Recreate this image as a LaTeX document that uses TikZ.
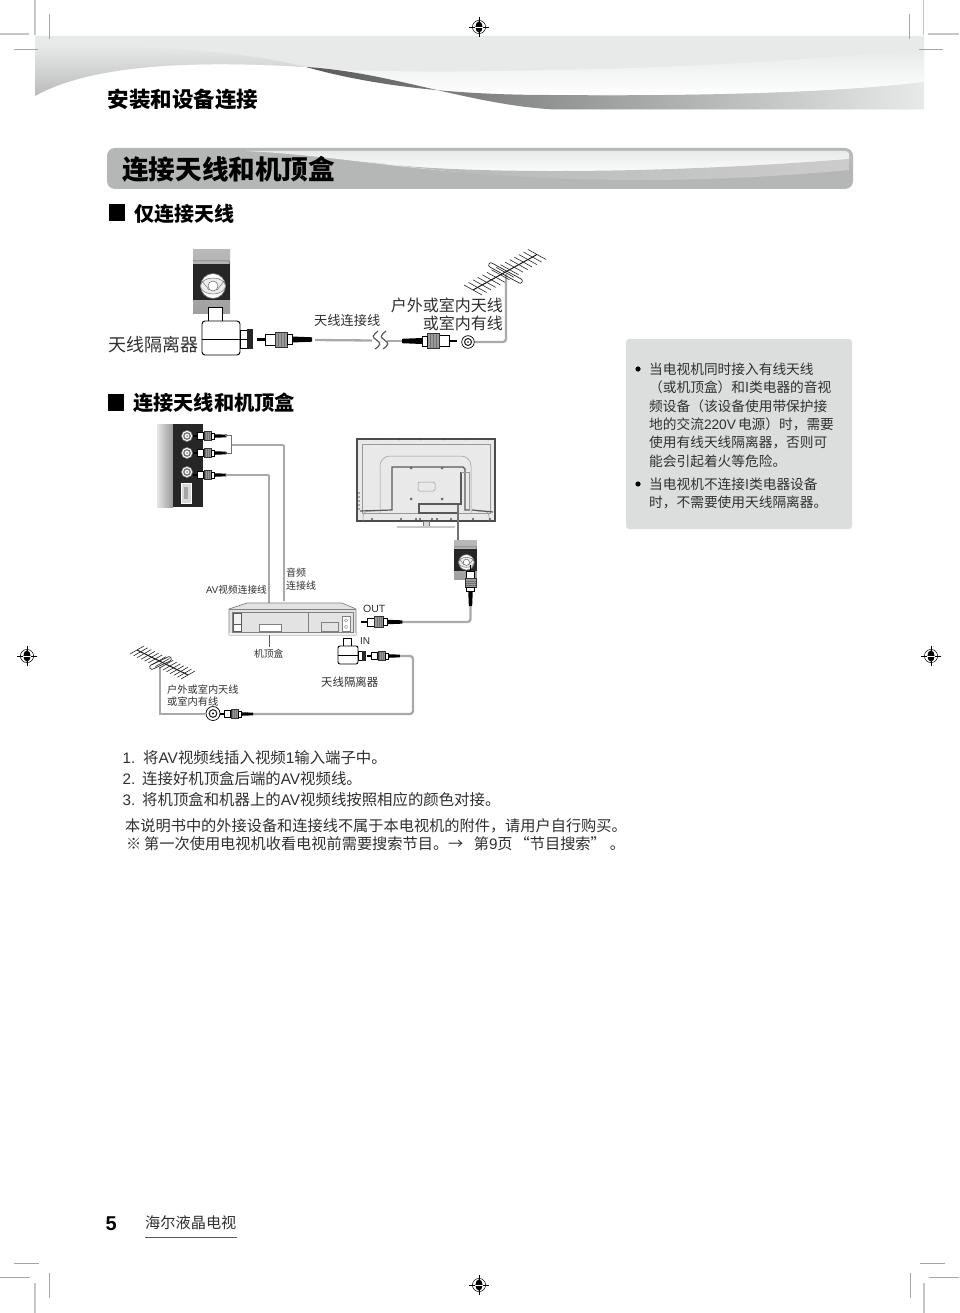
\documentclass[tikz,border=0pt]{standalone}
\usepackage{fontspec}
\setmainfont{Noto Sans CJK SC}
\newfontfamily\lat{Liberation Sans}
\usetikzlibrary{calc}
\definecolor{bandbase}{HTML}{E8EAEA}
\definecolor{barbase}{HTML}{B5B6B6}
\definecolor{notebg}{HTML}{DCDDDD}
\definecolor{txt}{HTML}{303030}
\definecolor{cablegray}{HTML}{A8A9A9}
\definecolor{tvgray}{HTML}{E9E9E9}
\newcommand{\fz}[1]{\fontsize{#1}{#1}\selectfont}
\newcommand{\la}[1]{{\lat #1}}
\tikzset{
  lab/.style={inner sep=0pt,anchor=west,text=txt},
  head/.style={inner sep=0pt,anchor=west,text=black,font=\bfseries},
  cable/.style={draw=cablegray,line width=2.3pt,rounded corners=3pt},
  trim/.style={draw=gray!70,line width=.5pt},
  trimb/.style={draw=gray!45,line width=1.3pt},
  outl/.style={draw=black,line width=.9pt},
}
% coax plug: tip at origin, cable side at +x
\newcommand{\plugshape}{%
  \fill[black] (0,-1.3) rectangle (8,1.3);
  \draw[black,line width=.7pt,fill=white] (8,-5.5) rectangle (18,5.5);
  \fill[gray!80] (18,-7.5) rectangle (30,7.5);
  \foreach \r in {21,24,27}{\draw[black!55,line width=.35pt] (\r,-7.5)--(\r,7.5);}
  \draw[black!80,line width=.5pt] (18,-7.5) rectangle (30,7.5);
  \draw[black,line width=.7pt,fill=white] (30,-5) rectangle (35,5);
  \fill[black] (35,-3) -- (55,-2.2) -- (55,2.2) -- (35,3) -- cycle;
}
\newcommand{\plugat}[5]{\begin{scope}[shift={(#1,#2)},rotate=#3,xscale=#4*#5,yscale=#5]\plugshape\end{scope}}
\newcommand{\coaxring}[3]{%
  \draw[black,line width=.7pt,fill=white] (#1,#2) circle (#3);
  \draw[black!85,line width=1.1pt] (#1,#2) circle (#3*.55);
  \fill[black] (#1,#2) circle (#3*.15);
}
\newcommand{\regmark}[2]{%
  \draw[black,line width=.4pt] (#1-10,#2)--(#1+10,#2) (#1,#2-10)--(#1,#2+10);
  \draw[black,line width=.5pt] (#1,#2) circle (6.6);
  \fill[black] (#1,#2) ellipse (3.6 and 5.6);
  \draw[white,line width=.4pt] (#1-4,#2)--(#1+4,#2);
}
% antenna: boom A-B, element half vector h
\newcommand{\antenna}[6]{%
  \draw[black!90,line width=1pt] (#1,#2)--(#3,#4);
  \foreach \t in {0,...,14}{
    \pgfmathsetmacro\px{#1+(#3-#1)*\t/14}
    \pgfmathsetmacro\py{#2+(#4-#2)*\t/14}
    \draw[black!85,line width=.6pt] (\px-#5,\py-#6)--(\px+#5,\py+#6);
  }
}
\newcommand{\socket}[3]{%
  \begin{scope}[shift={(#1,#2)},scale=#3]
    \shade[top color=gray!55,bottom color=gray!75] (0,0) rectangle (37,63);
    \fill[black!85] (0,14) rectangle (37,50);
    \draw[black!60,line width=.5pt] (0,11)--(36,11)--(37,14);
    \draw[black!60,line width=.6pt,fill=white] (20,36) circle (12.5);
    \draw[gray,line width=.6pt,fill=gray!15] (20,36) ellipse (12.5 and 8);
    \draw[gray!80!black,line width=.5pt,fill=white] (20,36) circle (5);
    \draw[gray!80!black,line width=.4pt] (9,31)--(16,40) (31,31)--(24,40);
  \end{scope}
}
\begin{document}
\begin{tikzpicture}[x=1pt,y=-1pt]
\useasboundingbox (0,0) rectangle (959,1313);
\fill[white] (0,0) rectangle (959,1313);

%===== top band
\fill[bandbase] (35,36) -- (924,36) -- (924,109.5) -- (555,109.5) .. controls (470,105) and (390,72) .. (306,67) .. controls (190,60) and (90,65) .. (35,96) -- cycle;
\shade[top color=bandbase,bottom color=black!27] (35,46) .. controls (130,45) and (230,48) .. (306,67) .. controls (190,60) and (90,65) .. (35,96) -- cycle;
\shade[top color=bandbase,bottom color=white] (306,67) .. controls (367,73) and (470,72) .. (550,70) .. controls (700,68) and (820,58) .. (924,50) -- (924,82) .. controls (820,95) and (650,96) .. (550,95) .. controls (450,95) and (370,85) .. (306,67) -- cycle;
\shade[left color=black!65,right color=bandbase] (306,67) .. controls (370,85) and (450,95) .. (550,95) .. controls (650,96) and (820,95) .. (924,82) -- (924,109.5) -- (555,109.5) .. controls (470,105) and (390,72) .. (306,67) -- cycle;

%===== title bar
\fill[barbase] (107,148) [rounded corners=8pt] -- (853,148) -- (853,189) -- (107,189) -- cycle;
\shade[top color=bandbase,bottom color=white] (245,151) .. controls (330,155) and (420,172) .. (490,173) .. controls (620,177) and (760,172) .. (849,159) -- (849,154) [rounded corners=3pt] -- (849,151) -- cycle;
\shade[left color=barbase,right color=black!20] (370,162) .. controls (430,172) and (620,177) .. (849,159) -- (849,170) .. controls (700,184) and (540,185) .. (370,162) -- cycle;
\draw[black!25,line width=1pt,rounded corners=6pt] (246,150.5) -- (851,150.5) -- (851,165);

\node[head,font=\bfseries\fz{21.5}] (chapter) at (107.5,99) {安装和设备连接};
\node[head,font=\bfseries\fz{26.6}] (title) at (122,169) {连接天线和机顶盒};
\fill[black] (109,204.5) rectangle (125,221);
\node[head,font=\bfseries\fz{20}] (sec1) at (134,213.5) {仅连接天线};
\fill[black] (108,394) rectangle (124,411);
\node[head,font=\bfseries\fz{20.2}] (sec2) at (133,402.5) {连接天线和机顶盒};

%===== diagram 1
\socket{193}{250}{1}
\draw[outl,fill=white] (208,307) rectangle (222,321);
\draw[outl,fill=white,rounded corners=3pt] (202,321) rectangle (240,355);
\draw[outl] (202,339)--(240,339);
\draw[outl,fill=white] (240,330) rectangle (247,348);
\draw[outl] (240,339)--(247,339);
\fill[black!85] (247,329) rectangle (253,349);
\plugat{257}{339.5}{0}{1}{1}
\plugat{457}{341}{0}{-1}{1}
\coordinate (c1a) at (315,340);
\coordinate (c1b) at (372,340.5);
\coordinate (c1c) at (387,341);
\coordinate (c1d) at (402,341);
\draw[cable] (c1a)--(c1b);
\draw[cable] (c1c)--(c1d);
\draw[black!65,line width=1.2pt] (378,331) .. controls (372,336) and (372,337) .. (376.5,340) .. controls (381,343) and (381,345) .. (375,349);
\draw[black!65,line width=1.2pt] (386,331) .. controls (380,336) and (380,337) .. (384.5,340) .. controls (389,343) and (389,345) .. (383,349);
\coaxring{468}{342}{6.3}
\coordinate (c2a) at (475,342);
\coordinate (c2b) at (506,342);
\coordinate (c2c) at (506,274);
\draw[cable] (c2a)--(c2b)--(c2c);
\antenna{473}{290}{537}{254.5}{9}{5}
\draw[black!85,line width=.7pt,rounded corners=2pt] (490,262) -- (523,280) -- (521,284) -- (488,266) -- cycle;

\node[lab,font=\fz{18}] (iso1) at (108,345) {天线隔离器};
\node[lab,font=\fz{13.2}] (cab1) at (314,320) {天线连接线};
\node[lab,anchor=east,font=\fz{16}] (ant1a) at (503,305) {户外或室内天线};
\node[lab,anchor=east,font=\fz{16}] (ant1b) at (503,323) {或室内有线};

%===== AV panel
\shade[left color=gray!20,right color=gray!80] (157,424) rectangle (173,507);
\fill[black!85] (173,424) rectangle (203,507);
\foreach \sy in {436,453,472}{
  \draw[gray,line width=.5pt,fill=white] (187,\sy) circle (5.5);
  \draw[gray!90!black,line width=1.3pt,fill=white] (187,\sy) circle (3.2);
  \fill[gray] (187,\sy) circle (1);
}
\draw[white,fill=gray!30,line width=.6pt] (181,483) rectangle (191,503);
\fill[gray!70] (184,487) rectangle (188,499);
\plugat{193}{436}{0}{1}{.6}
\plugat{193}{453}{0}{1}{.6}
\plugat{193}{475}{0}{1}{.6}
\coordinate (au1) at (226,435.5);
\coordinate (au2) at (226,453);
\coordinate (auj) at (232,445);
\coordinate (aub) at (284,601);
\coordinate (av1) at (226,475);
\coordinate (avb) at (269,603);
\draw[black!55,line width=.5pt] (au1) -- (231.5,435.5) -- (231.5,453) -- (au2);
\fill[white,draw=black,line width=.4pt] (au1) circle (1.2) (au2) circle (1.2) (av1) circle (1.2);
\draw[cable,line width=1.8pt,rounded corners=1pt] (auj) -| (aub);
\draw[cable,line width=1.8pt,rounded corners=1pt] (av1) -| (avb);

%===== TV
\draw[black!70,line width=1.3pt,fill=tvgray] (357,439) rectangle (495,521);
\draw[gray!80,line width=.5pt] (362,444) rectangle (490,513);
\draw[gray!80,line width=.5pt,rounded corners=10pt] (380,513) -- (380,456) -- (471,456) -- (471,513);
\draw[gray!80,line width=.5pt,rounded corners=5pt] (363,521) -- (363,511) -- (375,511);
\draw[gray!80,line width=.5pt,rounded corners=5pt] (489,521) -- (489,511) -- (477,511);
\draw[black!65,line width=1.2pt] (360,511) -- (392,510) -- (392,467) -- (463,467) -- (465,469) -- (465,510) -- (470,510);
\draw[black!65,line width=1.2pt] (472,510)--(493,512);
\draw[black!65,line width=1.2pt] (461,472) -- (461,504) -- (419,504) -- (419,513) -- (459,513);
\draw[gray!80,line width=.5pt] (461,472) -- (469,472) -- (469,510);
\draw[gray!80,line width=.5pt,rounded corners=1.5pt] (418,482) rectangle (435,491);
\foreach \sx/\sy in {411/468,442/468,411/499,442/499}{\fill[black!60] (\sx,\sy) circle (1.5);}
\foreach \sx in {376,399,421,444,466,488}{\fill[black!75] (\sx,439.5) circle (.8);}
\foreach \sx in {372,401,416,420,432,437,451,473,490}{\fill[black!65] (\sx,519) circle (1.1);}
\foreach \sy in {493,497,501,505,509}{\fill[black!60] (359,\sy) circle (.8);}
\draw[black!55,line width=.6pt,fill=gray!30] (423,521) rectangle (429,527);
\draw[gray!45,line width=1.6pt] (397,527)--(455,527);

\coordinate (tvcab) at (458,505);
\coordinate (sockin) at (458,540);
\draw[black!55,line width=1.5pt] (tvcab)--(sockin);
\socket{454}{540}{.62}
\plugat{470.5}{565}{-90}{1}{.75}
\coordinate (c3a) at (470.5,606);
\coordinate (c3b) at (470.5,622);
\coordinate (c3c) at (402,622);
\draw[cable] (c3a)--(c3b)--(c3c);

%===== set-top box
\draw[gray,line width=.7pt,fill=gray!22] (229,635) -- (229,609) -- (247,603) -- (342,603) -- (356,609) -- (356,635) -- cycle;
\draw[gray,line width=.6pt] (229,609)--(356,609);
\fill[gray!12] (229.4,632.5) rectangle (355.6,634.6);
\draw[gray,line width=.8pt,fill=gray!22] (232,612) rectangle (353,632);
\draw[gray,line width=.8pt] (308,612)--(308,632);
\draw[black!65,line width=.5pt,fill=gray!10] (233.5,613) rectangle (241.5,631);
\draw[black!65,line width=.5pt,fill=white] (233.5,624) rectangle (241.5,631);
\draw[gray,line width=.6pt,fill=white] (259,624.5) rectangle (281,631);
\draw[gray,line width=.6pt,fill=gray!22] (321,622) rectangle (338,631);
\draw[gray,line width=.6pt,fill=white] (342,616) rectangle (350,631);
\draw[gray,line width=.4pt] (346,620.5) circle (1.6) (346,627) circle (1.6);
\coordinate (stbt) at (269,635);
\coordinate (stbl) at (269,647);
\draw[black!65,line width=.6pt] (stbt)--(stbl);
\plugat{361}{622}{0}{1}{.75}

%===== isolator IN
\draw[outl,fill=white] (343,638) rectangle (351,646);
\draw[outl,fill=white,rounded corners=2pt] (338,646) rectangle (358,664);
\draw[outl] (338,655)--(358,655);
\draw[outl,fill=white] (358,651) rectangle (362,660);
\fill[black!85] (362,650.5) rectangle (366,661);
\plugat{367}{656}{0}{1}{.6}
\coordinate (c4a) at (400,656);
\coordinate (c4b) at (413,656);
\coordinate (c4c) at (413,714);
\coordinate (c4d) at (253,714);
\draw[cable] (c4a)--(c4b)--(c4c)--(c4d);
\plugat{220}{714}{0}{1}{.6}

%===== antenna 2
\coaxring{213}{713.5}{7}
\coordinate (m2a) at (160,667);
\coordinate (m2b) at (160,714);
\coordinate (m2c) at (205,714);
\draw[cable,line width=1.8pt,rounded corners=0pt] (m2a)--(m2b)--(m2c);
\antenna{137}{650}{188}{675}{7}{-4}
\draw[black!85,line width=.7pt,rounded corners=2pt] (149,666) -- (170,656) -- (172,660) -- (151,670) -- cycle;

\node[lab,font=\fz{9.7}] (avlab) at (206,590) {\la{AV}视频连接线};
\node[lab,font=\fz{10}] (aud1) at (286,573) {音频};
\node[lab,font=\fz{10}] (aud2) at (286,586) {连接线};
\node[lab,font=\lat\fz{10.5}] (out) at (363,609) {OUT};
\node[lab,font=\lat\fz{10}] (in) at (360,641) {IN};
\node[lab,font=\fz{9.7}] (stb) at (254,654) {机顶盒};
\node[lab,font=\fz{11.4}] (iso2) at (321,682) {天线隔离器};
\node[lab,font=\fz{10.2}] (ant2a) at (167,690) {户外或室内天线};
\node[lab,font=\fz{10.2}] (ant2b) at (167,702) {或室内有线};

%===== note box
\fill[notebg,rounded corners=3pt] (626,339) rectangle (852,529);
\fill[black] (638,369) circle (2.6) (638,484) circle (2.6);
\node[lab,font=\fz{13.7}] (n1) at (649,369) {当电视机同时接入有线天线};
\node[lab,font=\fz{13.7}] (n2) at (649,387.5) {（或机顶盒）和I类电器的音视};
\node[lab,font=\fz{13.7}] (n3) at (649,406) {频设备（该设备使用带保护接};
\node[lab,font=\fz{13.7}] (n4) at (649,424) {地的交流\la{220V}\hspace{2pt}电源）时，需要};
\node[lab,font=\fz{13.7}] (n5) at (649,442.5) {使用有线天线隔离器，否则可};
\node[lab,font=\fz{13.7}] (n6) at (649,461) {能会引起着火等危险。};
\node[lab,font=\fz{13.7}] (n7) at (649,484) {当电视机不连接I类电器设备};
\node[lab,font=\fz{13.7}] (n8) at (649,502.5) {时，不需要使用天线隔离器。};

%===== steps
\node[lab,font=\lat\fz{15.2}] (s1a) at (122.5,758) {1.};
\node[lab,font=\fz{15.4}] (s1b) at (143,758) {将\la{AV}视频线插入视频\la{1}输入端子中。};
\node[lab,font=\lat\fz{15.2}] (s2a) at (122.5,779) {2.};
\node[lab,font=\fz{15.4}] (s2b) at (142,779) {连接好机顶盒后端的\la{AV}视频线。};
\node[lab,font=\lat\fz{15.2}] (s3a) at (122.5,800) {3.};
\node[lab,font=\fz{15.4}] (s3b) at (142,800) {将机顶盒和机器上的\la{AV}视频线按照相应的颜色对接。};
\node[lab,font=\fz{15.2}] (r1) at (125,826) {本说明书中的外接设备和连接线不属于本电视机的附件，请用户自行购买。};
\node[lab,font=\fz{15.2}] (r2a) at (126,843.5) {※};
\node[lab,font=\fz{15.2}] (r2b) at (144,843.5) {第一次使用电视机收看电视前需要搜索节目。→\hspace{7pt} 第\la{9}页\hspace{2pt}“节目搜索”\hspace{4pt}。};

%===== footer
\node[inner sep=0pt,anchor=west,font=\lat\bfseries\fz{20}] (pg) at (105.5,1224) {5};
\node[lab,font=\fz{15.2}] (brand) at (145,1223) {海尔液晶电视};
\draw[black!65,line width=.9pt] (brand.west |- 0,1237) -- (237,1237);

%===== crop and registration marks
\draw[trimb] (35,0)--(35,35) (0,34)--(29,34);
\draw[trim] (49,14)--(49,39) (14,49)--(38,49);
\draw[trimb] (923.5,0)--(923.5,35) (928,34)--(959,34);
\draw[trim] (909,14)--(909,39) (919,49)--(943,49);
\draw[trimb] (35,1283)--(35,1313);
\draw[trim] (0,1277)--(30,1277) (14,1263)--(39,1263) (49,1273)--(49,1298);
\draw[trimb] (924,1283)--(924,1313);
\draw[trim] (929,1277)--(959,1277) (920,1263)--(945,1263) (910,1273)--(910,1298);
\regmark{479}{27}
\regmark{479}{1285}
\regmark{27}{656}
\regmark{931}{656}
\end{tikzpicture}
\end{document}
